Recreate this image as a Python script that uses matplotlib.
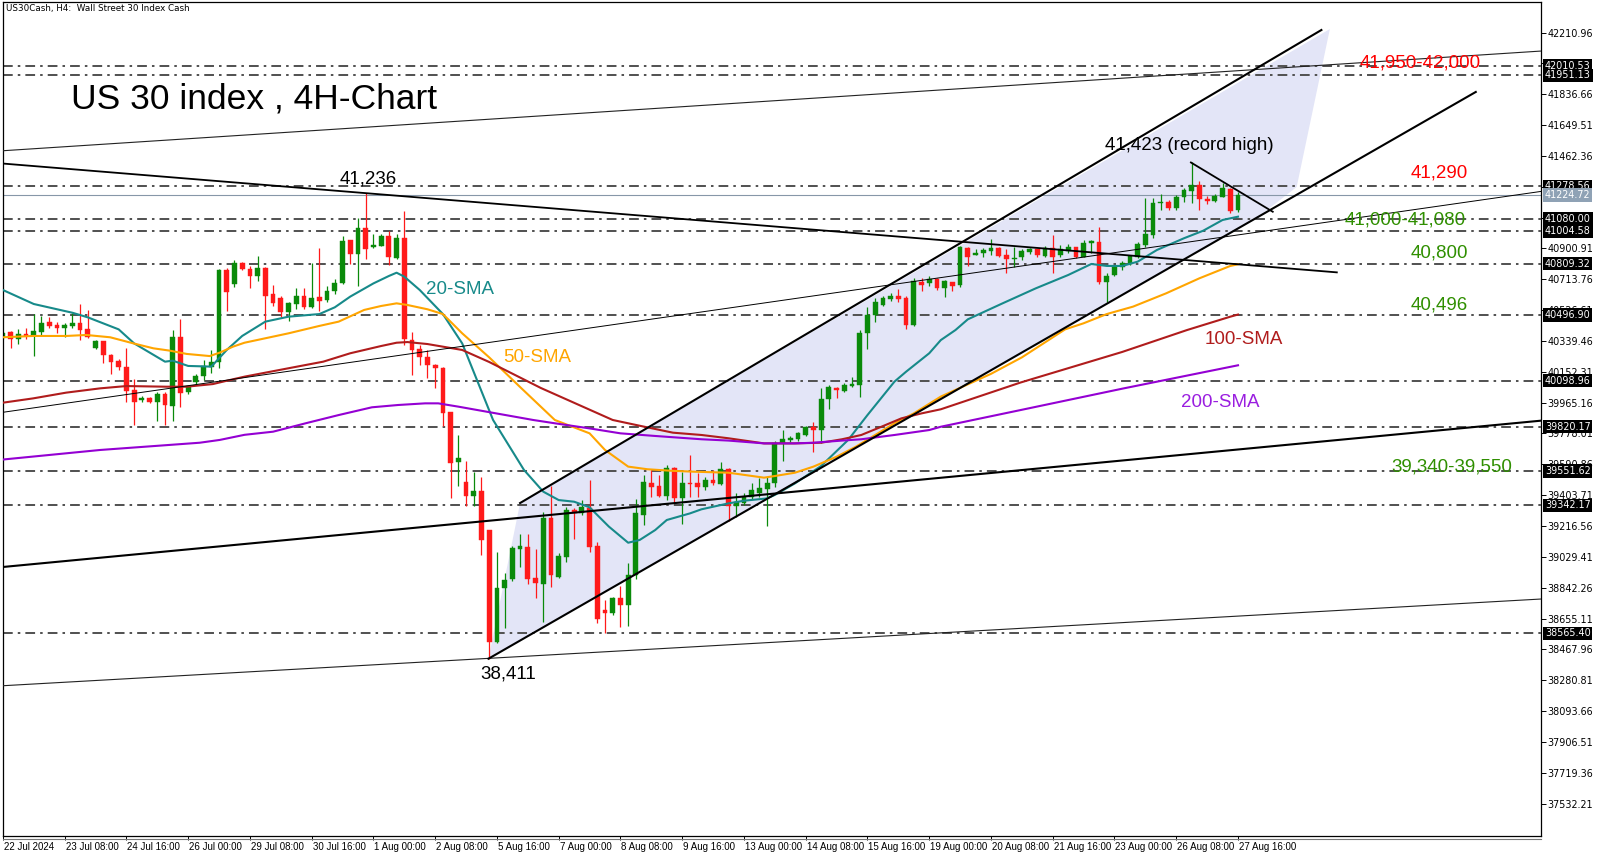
import matplotlib
matplotlib.use('Agg')
import matplotlib.pyplot as plt
import matplotlib.transforms as mtransforms
from matplotlib.patches import Polygon
from matplotlib.lines import Line2D
import numpy as np

# ---------------- data ----------------
opens = [40363,40393,40353,40381,40373,40397,40457,40435,40421,40433,40449,40413,40297,40337,40257,40216,
         40184,40040,39983,39996,39969,40020,39943,40361,40032,40088,40130,40180,40212,40769,40684,40813,
         40779,40731,40785,40622,40600,40518,40564,40614,40544,40606,40590,40644,40694,40951,40869,41026,
         40911,40919,40976,40845,40966,40343,40293,40243,40196,40176,39907,39606,39486,39399,39429,39192,
         38515,38842,38893,39079,39091,38899,38865,39263,38909,39030,39314,39298,39324,39095,38707,38687,
         38778,38737,38919,39283,39480,39459,39399,39571,39385,39480,39476,39455,39496,39472,39560,39338,
         39354,39391,39419,39439,39476,39718,39739,39743,39769,39815,39799,39985,40052,40038,40068,40074,
         40390,40497,40558,40594,40615,40598,40437,40700,40689,40714,40659,40696,40679,40902,40864,40872,
         40888,40902,40862,40837,40851,40882,40896,40855,40902,40862,40888,40908,40851,40932,40942,40700,
         40740,40787,40807,40851,40922,40983,41175,41185,41145,41212,41252,41286,41201,41191,41216,41262,
         41135]
highs = [40397,40403,40413,40421,40504,40490,40484,40453,40449,40508,40564,40530,40343,40341,40263,40228,
         40299,40108,40006,40002,40028,40028,40407,40470,40072,40142,40222,40283,40775,40781,40831,40821,
         40795,40855,40789,40680,40614,40574,40664,40664,40811,40905,40674,40714,40976,40955,41086,41236,
         40986,40986,41006,40986,41126,40393,40313,40283,40202,40180,39910,39771,39613,39546,39516,39192,
         39061,38929,39095,39166,39166,39075,39304,39459,39055,39330,39324,39374,39496,39122,38767,38788,
         38852,38990,39378,39526,39557,39526,39587,39577,39546,39648,39536,39516,39556,39607,39567,39419,
         39415,39476,39506,39516,39735,39799,39763,39789,39824,39850,40056,40072,40058,40087,40123,40406,
         40548,40602,40615,40629,40653,40613,40720,40720,40734,40720,40710,40700,40916,40908,40896,40902,
         40957,40908,40896,40908,40896,40902,40900,40916,40983,40922,40928,40912,40953,40953,41029,40750,
         40801,40827,40862,40942,41205,41205,41232,41195,41226,41266,41423,41313,41220,41232,41301,41266,
         41246]
lows = [40353,40299,40319,40353,40249,40377,40417,40391,40361,40417,40345,40357,40289,40206,40142,40162,
        39969,39831,39967,39961,39851,39831,39851,39941,40016,40076,40102,40144,40176,40524,40670,40771,
        40664,40704,40413,40550,40484,40461,40534,40534,40538,40524,40574,40624,40684,40805,40674,40839,
        40905,40915,40799,40839,40313,40136,40192,40112,40052,39821,39389,39459,39338,39338,39041,38411,
        38505,38595,38883,38970,38863,38782,38636,38848,38899,39000,39136,39283,39061,38626,38565,38676,
        38606,38612,38893,39223,39395,39391,39374,39358,39229,39395,39395,39435,39465,39465,39249,39273,
        39344,39378,39395,39217,39455,39611,39728,39735,39763,39668,39722,39925,39991,40032,40058,39998,
        40289,40457,40552,40584,40578,40410,40430,40643,40673,40649,40609,40643,40669,40795,40860,40851,
        40862,40851,40754,40787,40831,40868,40851,40847,40750,40851,40876,40845,40847,40876,40686,40578,
        40734,40770,40801,40841,40908,40963,41135,41135,41135,41185,41175,41135,41171,41185,41212,41114,
        41124]
closes = [40389,40349,40381,40369,40401,40447,40429,40421,40437,40447,40409,40361,40337,40257,40210,40184,
          40036,39969,39991,39969,40020,39951,40361,40026,40066,40128,40188,40212,40769,40638,40813,40779,
          40731,40783,40614,40570,40518,40568,40614,40544,40598,40584,40644,40694,40945,40865,41026,40895,
          40923,40976,40851,40966,40353,40283,40243,40192,40176,39901,39600,39630,39399,39429,39132,38515,
          38842,38889,39085,39095,38895,38873,39263,38919,39035,39314,39298,39330,39091,38652,38687,38778,
          38737,38919,39293,39486,39455,39399,39567,39385,39480,39472,39455,39496,39476,39560,39338,39364,
          39391,39435,39445,39480,39718,39743,39753,39779,39819,39799,39989,40058,40042,40072,40078,40390,
          40497,40578,40598,40615,40592,40437,40704,40679,40714,40659,40704,40673,40908,40847,40876,40892,
          40902,40858,40835,40845,40888,40896,40862,40902,40851,40896,40908,40851,40932,40944,40700,40734,
          40791,40815,40855,40928,40987,41175,41185,41145,41216,41256,41286,41199,41191,41222,41266,41131,
          41224.72]

date_labels = ['22 Jul 2024', '23 Jul 08:00', '24 Jul 16:00', '26 Jul 00:00', '29 Jul 08:00',
               '30 Jul 16:00', '1 Aug 00:00', '2 Aug 08:00', '5 Aug 16:00', '7 Aug 00:00',
               '8 Aug 08:00', '9 Aug 16:00', '13 Aug 00:00', '14 Aug 08:00', '15 Aug 16:00',
               '19 Aug 00:00', '20 Aug 08:00', '21 Aug 16:00', '23 Aug 00:00', '26 Aug 08:00',
               '27 Aug 16:00']
bars_per_label = 8

sma20_x = [0, 4, 9, 11, 15, 17, 21, 22, 24, 27, 29, 31, 34, 37, 41, 43, 45, 48, 50, 51, 52, 54, 57, 59.5,
           63.5, 67.5, 70, 72, 74, 76, 78.5, 81, 82.5, 84.5, 86, 89, 90.5, 94, 96, 99, 100, 102.6, 106,
           109.5, 112, 115.5, 117, 120, 121.5, 123.4, 125, 129.5, 133.8, 138, 141, 143, 145, 147, 149.5,
           153, 155.5, 158, 160]
sma20_y = [40649, 40564, 40511, 40483, 40410, 40325, 40214, 40220, 40188, 40184, 40285, 40370, 40457, 40487,
           40503, 40544, 40609, 40689, 40734, 40754, 40730, 40649, 40503, 40325, 39860, 39557, 39425, 39374,
           39364, 39330, 39213, 39115, 39132, 39192, 39253, 39293, 39318, 39354, 39370, 39384, 39405, 39475,
           39581, 39739, 39890, 40093, 40153, 40265, 40345, 40406, 40471, 40568, 40659, 40740, 40807, 40795,
           40795, 40821, 40892, 40963, 41009, 41074, 41094]
sma50_x = [0, 3.9, 8.2, 10.8, 13.9, 16.9, 19.5, 21.6, 23.8, 26.8, 28.1, 29.8, 31.3, 37, 41, 43.5, 46.8, 49,
           51, 52.4, 55, 57, 59.5, 63, 67, 71.5, 76, 78, 81, 83.5, 86.5, 89.6, 94, 98.6, 100, 102.6, 105,
           108, 110.5, 113, 115.5, 118, 121.5, 128, 132, 137.6, 140, 143, 146.4, 150.7, 155, 159, 160]
sma50_y = [40362, 40370, 40370, 40376, 40362, 40325, 40295, 40281, 40261, 40248, 40269, 40305, 40329, 40386,
           40431, 40457, 40528, 40552, 40568, 40558, 40532, 40503, 40386, 40240, 40060, 39860, 39779, 39678,
           39577, 39561, 39552, 39546, 39540, 39510, 39520, 39540, 39577, 39637, 39698, 39769, 39840, 39900,
           40002, 40140, 40240, 40410, 40447, 40503, 40548, 40629, 40720, 40795, 40805]
sma100_x = [0, 3.9, 8.2, 12.6, 16, 21.2, 23.8, 27.2, 29.8, 31.3, 37, 41.5, 45, 49, 51, 52.4, 55, 59.5, 63,
            69.7, 79, 83, 86.8, 90.5, 94, 98.6, 102.6, 106, 108.7, 111.2, 113.8, 116.4, 119, 121.5, 131.8,
            145, 153.4, 159, 160]
sma100_y = [39965, 39991, 40026, 40052, 40066, 40062, 40062, 40078, 40107, 40123, 40174, 40214, 40265, 40309,
            40329, 40333, 40321, 40285, 40212, 40054, 39860, 39820, 39783, 39769, 39749, 39718, 39718, 39722,
            39743, 39769, 39819, 39870, 39900, 39925, 40087, 40273, 40406, 40487, 40500]
sma200_x = [0, 12.6, 25.5, 28.1, 31.3, 35, 39.3, 43.5, 47.8, 51.2, 54.7, 56.4, 59, 68.7, 71.5, 76, 80, 84.5,
            90.5, 94, 98.6, 102.6, 105, 108.7, 111.2, 115.5, 120, 121.5, 131.8, 145, 160]
sma200_y = [39620, 39678, 39722, 39739, 39770, 39789, 39841, 39890, 39937, 39951, 39961, 39961, 39941, 39860,
            39840, 39809, 39779, 39763, 39743, 39735, 39718, 39718, 39722, 39735, 39743, 39769, 39799, 39819,
            39920, 40050, 40192]

level_lines = [42010.53, 41951.13, 41278.56, 41080.00, 41004.58, 40809.32, 40496.90, 40098.96,
               39820.17, 39551.62, 39342.17, 38565.40]
bid_price = 41224.72
tick_start, tick_step, tick_count = 42210.96, 187.15, 26

# trendlines (bar index, price)
trend_desc_x, trend_desc_y = [-0.4, 172.8], [41418, 40756]
trend_thin_x, trend_thin_y = [-0.4, 199.5], [39904, 41249]
trend_thick_x, trend_thick_y = [-0.4, 199.5], [38966, 39857]
trend_low_x, trend_low_y = [-0.4, 199.5], [38246, 38774]
trend_top_x, trend_top_y = [-0.4, 199.5], [41493, 42100]
chan_up_x, chan_up_y = [67.0, 170.8], [39356, 42227]
chan_lo_x, chan_lo_y = [62.9, 190.8], [38411, 41851]
wedge_x, wedge_y = [153.9, 164.5], [41423, 41124]
shade_x = [62.9, 67.0, 171.9, 167.6, 162.6]
shade_y = [38411, 39356, 42233, 41274, 41092]

# ---------------- figure ----------------
W, H = 1600, 857
fig = plt.figure(figsize=(W / 100, H / 100), dpi=100)
L, T, R, B = 2.5, 2.0, 1541.0, 836.0
ax = fig.add_axes([L / W, 1 - B / H, (R - L) / W, (B - T) / H])
ax.set_xlim(-0.05, 199.25)
ax.set_ylim(37335, 42397)

GREEN = '#0a8a0a'
RED = '#ff1a1a'
n = len(opens)
x = np.arange(n)
o = np.array(opens, float); c = np.array(closes, float)
h = np.array(highs, float); l = np.array(lows, float)
col = np.where(c >= o, GREEN, RED)

# shaded channel
ax.add_patch(Polygon(np.column_stack([shade_x, shade_y]), closed=True, fc='#e3e5f7', ec='none', zorder=0.5))

# horizontal levels
for lv in level_lines:
    ax.axhline(lv, color='#505050', lw=1.4, ls=(0, (5, 2.6, 1.3, 2.6)), zorder=1)
ax.axhline(bid_price, color='#8797a8', lw=0.8, zorder=1)

# candles
ax.vlines(x, l, h, colors=col, lw=0.9, zorder=2)
bot = np.minimum(o, c)
ht = np.maximum(np.abs(c - o), 6)
ax.bar(x, ht, bottom=bot, width=0.62, color=col, edgecolor=col, lw=0.3, zorder=2.1)

# moving averages
ax.plot(sma20_x, sma20_y, color='#178a8a', lw=1.5, zorder=3)
ax.plot(sma50_x, sma50_y, color='#ffa500', lw=1.5, zorder=3)
ax.plot(sma100_x, sma100_y, color='#b01c1c', lw=1.5, zorder=3)
ax.plot(sma200_x, sma200_y, color='#9400d3', lw=1.5, zorder=3)

# trendlines
ax.plot(trend_desc_x, trend_desc_y, color='black', lw=1.3, zorder=4)
ax.plot(trend_thin_x, trend_thin_y, color='black', lw=0.7, zorder=4)
ax.plot(trend_thick_x, trend_thick_y, color='black', lw=1.5, zorder=4)
ax.plot(trend_low_x, trend_low_y, color='#222222', lw=0.8, zorder=4)
ax.plot(trend_top_x, trend_top_y, color='#222222', lw=0.8, zorder=4)
ax.plot(chan_up_x, chan_up_y, color='black', lw=1.5, zorder=4)
ax.plot(chan_lo_x, chan_lo_y, color='black', lw=1.5, zorder=4)
ax.plot(wedge_x, wedge_y, color='black', lw=1.3, zorder=4)

# axes styling
for s in ax.spines.values():
    s.set_color('black'); s.set_linewidth(0.9)
ax.yaxis.tick_right()
ticks = [tick_start - tick_step * k for k in range(tick_count)]
ax.set_yticks(ticks)
ax.set_yticklabels([f'{v:.2f}' for v in ticks])
ax.tick_params(axis='y', direction='out', length=3.5, width=0.7, pad=1, labelsize=6.9, colors='black')
ax.set_xticks(np.arange(len(date_labels)) * bars_per_label)
ax.set_xticklabels(date_labels, family=['Liberation Sans', 'DejaVu Sans'])
ax.tick_params(axis='x', direction='out', length=3.0, width=0.7, pad=1.5, labelsize=7.0)
offset = mtransforms.ScaledTranslation(1.0 / 100, 0, fig.dpi_scale_trans)
for lab in ax.get_xticklabels():
    lab.set_ha('left')
    lab.set_transform(lab.get_transform() + offset)

# boxed price labels
btr = mtransforms.blended_transform_factory(ax.transAxes, ax.transData)
bx = 1 + 4.0 / (R - L)
for lv in level_lines:
    ax.text(bx, lv, f'{lv:.2f}', transform=btr, color='white', fontsize=6.9, va='center', ha='left',
            clip_on=False, zorder=10,
            bbox=dict(boxstyle='square,pad=0.18', fc='black', ec='none'))
ax.text(bx, bid_price, f'{bid_price:.2f}', transform=btr, color='white', fontsize=6.9, va='center', ha='left',
        clip_on=False, zorder=10, bbox=dict(boxstyle='square,pad=0.18', fc='#8fa2b5', ec='none'))

# bottom double line
fig.add_artist(Line2D([L / W, R / W], [1 - (B + 2.5) / H] * 2, color='#777777', lw=0.8))

# texts
def ftext(px, py, s, **kw):
    fig.text(px / W, 1 - py / H, s, va='center', ha='left', family=['Liberation Sans', 'DejaVu Sans'], **kw)

fig.text(6 / W, 1 - 9 / H, 'US30Cash, H4:  Wall Street 30 Index Cash', fontsize=6.3, va='center', ha='left',
         color='black')
ftext(71, 99, 'US 30 index , 4H-Chart', fontsize=25.5, color='black')
lab_fs = 13.5
ftext(340, 179, '41,236', fontsize=lab_fs, color='black')
ftext(480, 674, '38,411', fontsize=lab_fs, color='black')
ftext(1105, 146, '41,423 (record high)', fontsize=lab_fs, color='black')
ftext(1360, 63, '41,950-42,000', fontsize=lab_fs, color='#ff0000')
ftext(1411, 173, '41,290', fontsize=lab_fs, color='#ff0000')
ftext(1345, 220, '41,000-41,080', fontsize=lab_fs, color='#2f8f00')
ftext(1411, 253, '40,800', fontsize=lab_fs, color='#2f8f00')
ftext(1411, 305, '40,496', fontsize=lab_fs, color='#2f8f00')
ftext(1205, 340, '100-SMA', fontsize=lab_fs, color='#b01c1c')
ftext(1181, 403, '200-SMA', fontsize=lab_fs, color='#9a1ee0')
ftext(1391, 467, '39,340-39,550', fontsize=lab_fs, color='#2f8f00')
ftext(426, 290, '20-SMA', fontsize=lab_fs, color='#178a8a')
ftext(503, 357, '50-SMA', fontsize=lab_fs, color='#ffa500')

fig.savefig('out.png', dpi=100)
